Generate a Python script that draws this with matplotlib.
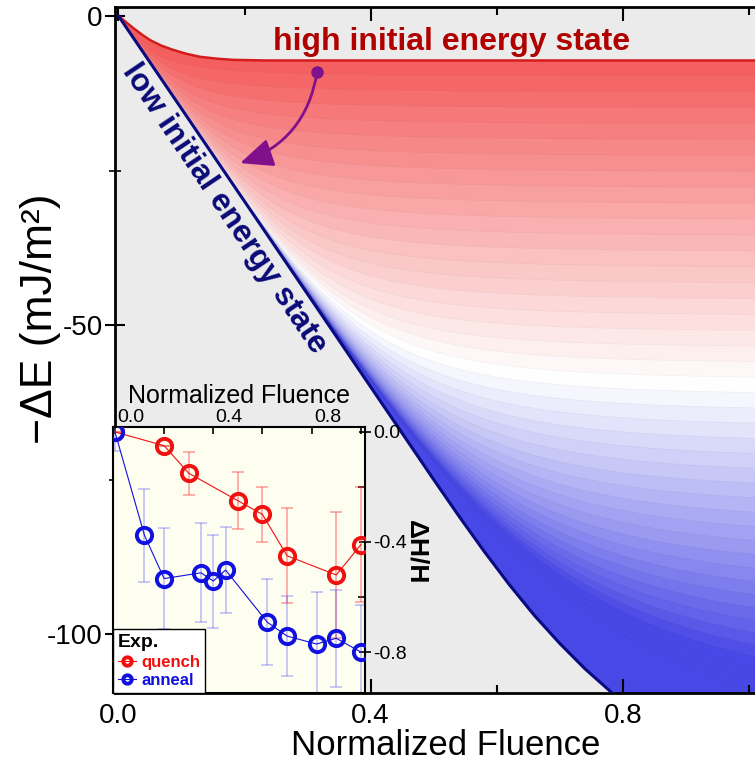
import numpy as np
import matplotlib
matplotlib.use("Agg")
import matplotlib.pyplot as plt
from matplotlib.colors import LinearSegmentedColormap, to_rgb
from matplotlib.patches import PathPatch
from matplotlib.path import Path
from matplotlib.transforms import ScaledTranslation

# ---- main panel: energy relaxation envelopes (-dE in mJ/m^2 vs normalized fluence) ----
high_x = [0.0, 0.012, 0.024, 0.037, 0.05, 0.068, 0.087, 0.107, 0.129, 0.155, 0.182, 0.236, 0.5, 1.02]
high_e = [0.0, -1.0, -2.0, -3.0, -3.9, -4.8, -5.5, -6.1, -6.6, -6.9, -7.1, -7.2, -7.2, -7.2]
low_x = [0.0, 0.10, 0.20, 0.30, 0.40, 0.50, 0.54, 0.58, 0.62, 0.66, 0.70, 0.74, 0.783, 0.82, 0.90, 1.02]
low_e = [0.0, -15.0, -30.0, -45.0, -60.0, -75.0, -80.9, -86.6, -92.0, -97.0, -101.5, -105.6, -109.5, -112.5, -116.0, -117.0]
low_slope = 150.0  # initial slope of the low-energy envelope

# ---- inset: measured enthalpy change ----
quench_x = [0.0, 0.2, 0.3, 0.5, 0.6, 0.7, 0.9, 1.0]
quench_y = [0.0, -0.05, -0.15, -0.25, -0.30, -0.45, -0.52, -0.41]
quench_err = [0.0, 0.0, 0.078, 0.104, 0.10, 0.173, 0.228, 0.21]
anneal_x = [0.0, 0.12, 0.2, 0.35, 0.4, 0.45, 0.62, 0.7, 0.82, 0.9, 1.0]
anneal_y = [0.0, -0.376, -0.533, -0.512, -0.542, -0.502, -0.692, -0.742, -0.771, -0.75, -0.80]
anneal_err = [0.07, 0.168, 0.183, 0.18, 0.169, 0.155, 0.156, 0.145, 0.19, 0.176, 0.17]

main_xticks = [0.0, 0.4, 0.8]
main_xlabels = ["0.0", "0.4", "0.8"]
main_yticks = [0, -50, -100]
main_ylabels = ["0", "-50", "-100"]
inset_xticks = [0.0, 0.4, 0.8]
inset_xlabels = ["0.0", "0.4", "0.8"]
inset_yticks = [0.0, -0.4, -0.8]
inset_ylabels = ["0.0", "-0.4", "-0.8"]

plt.rcParams["font.family"] = ["Liberation Sans", "DejaVu Sans"]
plt.rcParams["axes.unicode_minus"] = False

fig = plt.figure(figsize=(7.55, 7.65), dpi=100)
W, H = 755.0, 765.0
ax = fig.add_axes([115 / W, 1 - 693 / H, 1 - 115 / W, (693 - 7) / H])
ax.set_facecolor("#ebebeb")
ax.set_xlim(-0.0055, 1.0095)
ax.set_ylim(-109.5, 1.45)

# region between the two envelopes
xs = np.linspace(0, 1.02, 900)
top = np.interp(xs, high_x, high_e)
bottom = np.interp(xs, low_x, low_e)
verts = np.concatenate([np.column_stack([xs, top]), np.column_stack([xs[::-1], bottom[::-1]])])
region = PathPatch(Path(verts), transform=ax.transData, facecolor="none", edgecolor="none")
ax.add_patch(region)

cmap = LinearSegmentedColormap.from_list(
    "state", [(0.0, "#f46060"), (0.5, "#ffffff"), (1.0, "#4848e6")])

def darker(c, f=0.88):
    r, g, b = to_rgb(c)
    return (r * f, g * f, b * f)

# family of intermediate relaxation paths, shaded by plateau depth
band_levels = np.linspace(7.2, 118, 44)
ramp = low_slope * xs
base = ax.fill_between(xs, top, -130, color=cmap(0.0), lw=0)
base.set_clip_path(region)
with np.errstate(divide="ignore", over="ignore"):
    for P in band_levels:
        n = 1.5 + 2.5 * min(1.0, (P - 7.2) / 45.0)
        mag = (ramp ** (-n) + P ** (-n)) ** (-1.0 / n)
        curve = np.minimum(-mag, top)
        col = cmap(min(1.0, (P - 7.2) / (110 - 7.2)))
        f = ax.fill_between(xs, curve, -130, color=col, lw=0)
        f.set_clip_path(region)
        ln, = ax.plot(xs, curve, color=darker(col), lw=0.5, alpha=0.35)
        ln.set_clip_path(region)

ax.plot(high_x, high_e, color="#d41c1c", lw=1.8, zorder=5)
ax.plot(low_x, low_e, color="#0a0a82", lw=2.2, zorder=5)

ax.text(0.528, -5.5, "high initial energy state", color="#b00000", fontsize=23,
        fontweight="bold", ha="center", va="baseline", zorder=6)
ax.text(0.168, -31.2, "low initial energy state", color="#0a0a78", fontsize=23,
        fontweight="bold", ha="center", va="center", rotation=-56,
        rotation_mode="anchor", zorder=6)

# relaxation arrow
ax.plot([0.315], [-9.06], "o", color="#80108c", ms=8, zorder=7)
ax.annotate("", xy=(0.193, -23.8), xytext=(0.315, -9.06),
            arrowprops=dict(arrowstyle="-|>,head_length=0.8,head_width=0.35",
                            color="#80108c", lw=2, mutation_scale=25,
                            shrinkA=0, shrinkB=0,
                            connectionstyle="arc3,rad=-0.3"), zorder=7)

ax.set_xticks(main_xticks)
ax.set_xticklabels(main_xlabels)
ax.set_xticks([0.2, 0.6, 1.0], minor=True)
ax.set_yticks(main_yticks)
ax.set_yticklabels(main_ylabels)
ax.set_yticks([-25, -75], minor=True)
ax.tick_params(axis="x", which="both", direction="in", top=True, bottom=True, width=1.5)
ax.tick_params(axis="x", which="major", length=10, labelsize=20, pad=7)
ax.tick_params(axis="x", which="minor", length=6)
ax.tick_params(axis="y", which="major", direction="inout", length=14, width=1.5,
               labelsize=20, pad=2)
ax.tick_params(axis="y", which="minor", direction="inout", length=8, width=1.2)
for s in ("left", "bottom", "top"):
    ax.spines[s].set_linewidth(2)
ax.spines["right"].set_visible(False)

ax.set_xlabel("Normalized Fluence", fontsize=25)
ax.xaxis.set_label_coords(0.517, -0.053)
ax.set_ylabel("\u2212\u0394E (mJ/m\u00b2)", fontsize=32)
ax.yaxis.set_label_coords(-0.085, 0.545)

# ---- inset ----
axi = fig.add_axes([113 / W, 1 - 693 / H, (365 - 113) / W, (693 - 427) / H])
axi.set_facecolor("#fdfdf0")
axi.set_xlim(-0.008, 1.017)
axi.set_ylim(-0.949, 0.018)

axi.errorbar(quench_x, quench_y, yerr=quench_err, fmt="none", ecolor=(1, 0.2, 0.2, 0.45),
             elinewidth=1.2, capsize=4, capthick=1.2, zorder=2)
axi.errorbar(anneal_x, anneal_y, yerr=anneal_err, fmt="none", ecolor=(0.3, 0.3, 1, 0.35),
             elinewidth=1.2, capsize=4, capthick=1.2, zorder=2)
hq, = axi.plot(quench_x, quench_y, "-o", color="#f01010", lw=0.8, ms=11, mfc="none",
               mew=2.8, zorder=3, label="quench")
ha, = axi.plot(anneal_x, anneal_y, "-o", color="#1010e0", lw=0.8, ms=11, mfc="none",
               mew=2.8, zorder=4, label="anneal")

axi.xaxis.tick_top()
axi.xaxis.set_label_position("top")
axi.set_xticks(inset_xticks)
axi.set_xticklabels(inset_xlabels)
axi.set_xticks([0.2, 0.6, 1.0], minor=True)
axi.yaxis.tick_right()
axi.yaxis.set_label_position("right")
axi.set_yticks(inset_yticks)
axi.set_yticklabels(inset_ylabels)
axi.set_yticks([-0.2, -0.6], minor=True)
axi.tick_params(axis="x", which="both", direction="in", length=5, width=1.2, labelsize=14, pad=1)
axi.tick_params(axis="y", which="major", direction="inout", length=8, width=1.2, labelsize=14, pad=2)
axi.tick_params(axis="y", which="minor", direction="in", length=5, width=1.2)
shift = ScaledTranslation(0.16, 0, fig.dpi_scale_trans)
for lbl in axi.get_xticklabels():
    lbl.set_transform(lbl.get_transform() + shift)
for s in axi.spines.values():
    s.set_linewidth(1.5)
axi.set_xlabel("Normalized Fluence", fontsize=18, labelpad=4)
axi.set_ylabel("\u0394H/H", fontsize=19, fontweight="bold", rotation=270)
axi.yaxis.set_label_coords(1.25, 0.53)

leg = axi.legend(handles=[hq, ha], title="Exp.", loc="lower left", borderaxespad=0,
                 fancybox=False, edgecolor="black", framealpha=1, handlelength=1.1,
                 handletextpad=0.3, borderpad=0.3, labelspacing=0.2, markerscale=0.55,
                 prop={"weight": "bold", "size": 12},
                 title_fontproperties={"weight": "bold", "size": 14}, alignment="left")
leg.get_frame().set_linewidth(1.0)
for txt, c in zip(leg.get_texts(), ["#f01010", "#1010e0"]):
    txt.set_color(c)

fig.savefig("out.png", dpi=100)
